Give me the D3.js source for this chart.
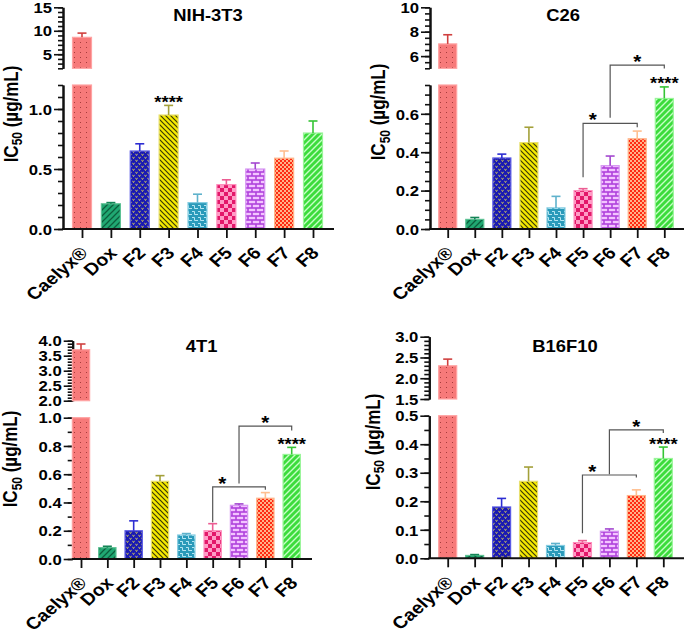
<!DOCTYPE html>
<html><head><meta charset="utf-8">
<script src="https://cdn.jsdelivr.net/npm/d3@7"></script>
<style>
body{margin:0;background:#fff}
svg{display:block}
text{font-family:"Liberation Sans",Arial,Helvetica,sans-serif;font-weight:bold;fill:#000}
</style>
</head><body>
<svg id="chart" width="685" height="635"></svg>
<script>
// ---------------- DATA ----------------
const categories = ["Caelyx®","Dox","F2","F3","F4","F5","F6","F7","F8"];

const nihValues = [8.6, 0.21, 0.65, 0.95, 0.22, 0.37, 0.50, 0.59, 0.80];
const nihSD     = [0.9, 0.01, 0.06, 0.08, 0.07, 0.04, 0.05, 0.06, 0.10];

const c26Values = [7.0, 0.05, 0.37, 0.45, 0.11, 0.20, 0.33, 0.47, 0.68];
const c26SD     = [0.75, 0.01, 0.02, 0.08, 0.06, 0.01, 0.05, 0.04, 0.06];

const t41Values = [3.7, 0.08, 0.20, 0.55, 0.17, 0.20, 0.38, 0.43, 0.74];
const t41SD     = [0.19, 0.01, 0.07, 0.04, 0.01, 0.05, 0.01, 0.04, 0.05];

const b16Values = [2.3, 0.01, 0.18, 0.27, 0.045, 0.055, 0.095, 0.22, 0.35];
const b16SD     = [0.16, 0.003, 0.03, 0.05, 0.007, 0.007, 0.008, 0.02, 0.04];

const nihUpperTicks = [5, 10, 15];
const nihLowerTicks = [0, 0.5, 1.0];
const c26UpperTicks = [6, 8, 10];
const c26LowerTicks = [0, 0.2, 0.4, 0.6];
const t41UpperTicks = [2.0, 2.5, 3.0, 3.5, 4.0];
const t41LowerTicks = [0, 0.2, 0.4, 0.6, 0.8, 1.0];
const b16UpperTicks = [1.5, 2.0, 2.5, 3.0];
const b16LowerTicks = [0, 0.1, 0.2, 0.3, 0.4, 0.5];

// significance brackets: [from, to, line level, left leg end, right leg end, label]
const c26Brackets = [["F5","F7",0.55,0.27,0.53,"*"],["F6","F8",0.853,0.58,0.836,"*"]];
const t41Brackets = [["F5","F7",0.51,0.26,0.49,"*"],["F6","F8",0.94,0.535,0.91,"*"]];
const b16Brackets = [["F5","F7",0.292,0.088,0.283,"*"],["F6","F8",0.45,0.295,0.439,"*"]];

const nihStars = [["F3","****"]];
const c26Stars = [["F8","****"]];
const t41Stars = [["F8","****"]];
const b16Stars = [["F8","****"]];

// ---------------- STYLE ----------------
const fills   = ["pC","pDox","pF2","pF3","pF4","pF5","pF6","pF7","pF8"];
const strokes = ["#ffa3a3","#5cc193","#5a5ae6","#e8e070","#86cde2","#ff8fbd","#d697f2","#ffb48a","#9af59a"];
const errCols = ["#d0403f","#138456","#2d2dd2","#a3a03a","#5fb2cc","#ec5d93","#a448d0","#ffbf8f","#35c435"];
const SX = 1.15;

const svg = d3.select("#chart");
const defs = svg.append("defs");
function pat(id, w, h, bg, draw){
  const p = defs.append("pattern").attr("id",id).attr("patternUnits","userSpaceOnUse")
    .attr("width",w).attr("height",h);
  p.append("rect").attr("width",w).attr("height",h).attr("fill",bg);
  draw(p);
}
pat("pC",6,5,"#f77a7a",p=>{
  p.append("rect").attr("x",2).attr("y",2).attr("width",1).attr("height",1).attr("fill","#a83c3c");
});
pat("pDox",6,6,"#20a872",p=>{
  p.append("path").attr("d","M0,6 L6,0 M-1,1 L1,-1 M5,7 L7,5").attr("stroke","#0b5e3c").attr("stroke-width",1.3);
});
pat("pF2",6,6,"#1a1ab2",p=>{
  p.append("path").attr("d","M0.5,0.8 L1.5,2.6 L2.5,0.8 M3.5,3.8 L4.5,5.6 L5.5,3.8").attr("stroke","#cfc55a").attr("stroke-width",0.9).attr("fill","none");
});
pat("pF3",5,5,"#f5e900",p=>{
  p.append("path").attr("d","M0,0 L5,5 M-1,4 L1,6 M4,-1 L6,1").attr("stroke","#3a3a06").attr("stroke-width",1.2);
});
pat("pF4",6,6,"#2a9aba",p=>{
  p.append("path").attr("d","M0,1.5 H2.5 V4.5 H6").attr("stroke","#b5e6f2").attr("stroke-width",1).attr("fill","none");
});
pat("pF5",8,8,"#ff9cc6",p=>{
  p.append("rect").attr("x",0).attr("y",0).attr("width",4).attr("height",4).attr("fill","#e3186a");
  p.append("rect").attr("x",4).attr("y",4).attr("width",4).attr("height",4).attr("fill","#e3186a");
});
pat("pF6",8,8,"#b042dc",p=>{
  p.append("rect").attr("x",0.8).attr("y",0.8).attr("width",6.4).attr("height",2.4).attr("fill","#f3c4ff");
  p.append("rect").attr("x",-3.2).attr("y",4.8).attr("width",6.4).attr("height",2.4).attr("fill","#f3c4ff");
  p.append("rect").attr("x",4.8).attr("y",4.8).attr("width",6.4).attr("height",2.4).attr("fill","#f3c4ff");
});
pat("pF7",4,4,"#ffb48a",p=>{
  p.append("rect").attr("x",0).attr("y",0).attr("width",2).attr("height",2).attr("fill","#ff2a12");
  p.append("rect").attr("x",2).attr("y",2).attr("width",2).attr("height",2).attr("fill","#ff2a12");
});
pat("pF8",6,6,"#3cdc3c",p=>{
  p.append("path").attr("d","M0,6 L6,0 M-1,1 L1,-1 M5,7 L7,5").attr("stroke","#c6ffc6").attr("stroke-width",1.4);
});

function txt(g, x, y, s, size, anchor, rot){
  return g.append("text")
    .attr("transform",`translate(${x},${y}) scale(${SX},1)` + (rot ? ` rotate(${rot})` : ""))
    .attr("text-anchor",anchor).attr("font-size",size).text(s);
}

const panels = [
  {title:"NIH-3T3", values:nihValues, sd:nihSD, upTicks:nihUpperTicks, lowTicks:nihLowerTicks,
   upDom:[2,15], upMinor:1, lowDom:[0,1.2], lowMinor:0.1, upFmt:d3.format("d"), lowFmt:d3.format(".1f"),
   brackets:[], stars:nihStars,
   L:{ax:63, axisY:229, lowTopY:85, upBotY:68.3, upTopY:7.3, x0:82, x1:313, xEnd:334, barW:19,
      tx:208, ty:21, lx:17.5, ly:114}},
  {title:"C26", values:c26Values, sd:c26SD, upTicks:c26UpperTicks, lowTicks:c26LowerTicks,
   upDom:[5,10], upMinor:0.5, lowDom:[0,0.75], lowMinor:0.05, upFmt:d3.format("d"), lowFmt:d3.format(".1f"),
   brackets:c26Brackets, stars:c26Stars,
   L:{ax:430, axisY:229, lowTopY:85, upBotY:68.3, upTopY:7.3, x0:447.7, x1:664.3, xEnd:684, barW:18,
      tx:563, ty:21, lx:385, ly:112}},
  {title:"4T1", values:t41Values, sd:t41SD, upTicks:t41UpperTicks, lowTicks:t41LowerTicks,
   upDom:[2,4], upMinor:0.1, lowDom:[0,1.0], lowMinor:0.1, upFmt:d3.format(".1f"), lowFmt:d3.format(".1f"),
   brackets:t41Brackets, stars:t41Stars,
   L:{ax:72.7, axisY:559, lowTopY:417.7, upBotY:400.7, upTopY:340.7, x0:81, x1:291.7, xEnd:312, barW:17.3,
      tx:201.7, ty:352, lx:17, ly:459}},
  {title:"B16F10", values:b16Values, sd:b16SD, upTicks:b16UpperTicks, lowTicks:b16LowerTicks,
   upDom:[1.5,3], upMinor:0.1, lowDom:[0,0.5], lowMinor:0.05, upFmt:d3.format(".1f"), lowFmt:d3.format(".1f"),
   brackets:b16Brackets, stars:b16Stars,
   L:{ax:429.3, axisY:558.3, lowTopY:415.7, upBotY:399, upTopY:336.7, x0:447.7, x1:663.3, xEnd:684, barW:18,
      tx:565, ty:352, lx:379.5, ly:442}}
];

function styleAxis(g, fmt, isMajor){
  g.attr("font-family",null).attr("font-size",null);
  g.select(".domain").attr("stroke","#111").attr("stroke-width",2);
  g.selectAll(".tick line").attr("stroke","#111").attr("stroke-width",1.6);
  if(isMajor){
    g.selectAll(".tick text").attr("x",null).attr("dy","0.36em")
      .attr("transform",`translate(-11,0) scale(${SX},1)`).attr("font-size",14.5).attr("fill","#000");
  }
}

panels.forEach(P=>{
  const L = P.L;
  const g = svg.append("g");
  const x = d3.scalePoint().domain(categories).range([L.x0, L.x1]);
  const yLow = d3.scaleLinear().domain(P.lowDom).range([L.axisY, L.lowTopY]);
  const yUp = d3.scaleLinear().domain(P.upDom).range([L.upBotY, L.upTopY]);
  const eps = 1e-9;

  // minor ticks
  const lowMinorVals = d3.range(P.lowDom[0], P.lowDom[1]+eps, P.lowMinor);
  const upMinorVals = d3.range(P.upDom[0], P.upDom[1]+eps, P.upMinor);
  g.append("g").attr("transform",`translate(${L.ax},0)`)
    .call(d3.axisLeft(yLow).tickValues(lowMinorVals).tickSize(5).tickSizeOuter(0).tickFormat(""))
    .call(s=>styleAxis(s,null,false));
  g.append("g").attr("transform",`translate(${L.ax},0)`)
    .call(d3.axisLeft(yUp).tickValues(upMinorVals).tickSize(5).tickSizeOuter(0).tickFormat(""))
    .call(s=>styleAxis(s,null,false));
  // major ticks
  g.append("g").attr("transform",`translate(${L.ax},0)`)
    .call(d3.axisLeft(yLow).tickValues(P.lowTicks).tickSize(9).tickSizeOuter(0).tickFormat(P.lowFmt))
    .call(s=>styleAxis(s,P.lowFmt,true));
  g.append("g").attr("transform",`translate(${L.ax},0)`)
    .call(d3.axisLeft(yUp).tickValues(P.upTicks).tickSize(9).tickSizeOuter(0).tickFormat(P.upFmt))
    .call(s=>styleAxis(s,P.upFmt,true));

  // bars
  P.values.forEach((v,i)=>{
    const cx = x(categories[i]);
    const lowV = Math.min(v, P.lowDom[1]);
    g.append("rect").attr("x",cx-L.barW/2).attr("width",L.barW)
      .attr("y",yLow(lowV)).attr("height",yLow(0)-yLow(lowV))
      .attr("fill",`url(#${fills[i]})`).attr("stroke",strokes[i]).attr("stroke-width",1.2);
    let sc = yLow;
    if(v > P.upDom[0]){
      sc = yUp;
      g.append("rect").attr("x",cx-L.barW/2).attr("width",L.barW)
        .attr("y",yUp(v)).attr("height",yUp(P.upDom[0])-yUp(v))
        .attr("fill",`url(#${fills[i]})`).attr("stroke",strokes[i]).attr("stroke-width",1.2);
    }
    const top = v + P.sd[i];
    g.append("line").attr("x1",cx).attr("x2",cx).attr("y1",sc(v)).attr("y2",sc(top))
      .attr("stroke",errCols[i]).attr("stroke-width",1.6);
    g.append("line").attr("x1",cx-4.5).attr("x2",cx+4.5).attr("y1",sc(top)).attr("y2",sc(top))
      .attr("stroke",errCols[i]).attr("stroke-width",1.6);
  });

  // x axis
  g.append("line").attr("x1",L.ax-1).attr("x2",L.xEnd).attr("y1",L.axisY).attr("y2",L.axisY)
    .attr("stroke","#111").attr("stroke-width",2);
  const xa = g.append("g").attr("transform",`translate(0,${L.axisY})`)
    .call(d3.axisBottom(x).tickSize(9).tickFormat(""));
  xa.select(".domain").remove();
  xa.selectAll(".tick line").attr("stroke","#111").attr("stroke-width",1.8);
  categories.forEach(c=>{
    txt(g, x(c)+7, L.axisY+25, c, 17, "end", -45);
  });

  // brackets
  P.brackets.forEach(b=>{
    const xa1 = x(b[0]), xb = x(b[1]);
    g.append("path").attr("d",`M${xa1},${yLow(b[3])} V${yLow(b[2])} H${xb} V${yLow(b[4])}`)
      .attr("fill","none").attr("stroke","#555").attr("stroke-width",1.2);
    const lx = b[0]==="F5" ? xa1 + (xb-xa1)*0.18 : (xa1+xb)/2;
    txt(g, lx, yLow(b[2])+3, b[5], 18, "middle");
  });
  P.stars.forEach(s=>{
    const i = categories.indexOf(s[0]);
    txt(g, x(s[0]), yLow(P.values[i]+P.sd[i])+2.5, s[1], 16, "middle");
  });

  // title
  txt(g, L.tx, L.ty, P.title, 16, "middle");
  // y label
  const yl = g.append("text")
    .attr("transform",`translate(${L.lx},${L.ly}) scale(${SX},1) rotate(-90)`)
    .attr("text-anchor","middle").attr("font-size",17);
  yl.append("tspan").text("IC");
  yl.append("tspan").attr("font-size",12).attr("dy",4).text("50");
  yl.append("tspan").attr("dy",-4).text(" (µg/mL)");
});
</script>
</body></html>
